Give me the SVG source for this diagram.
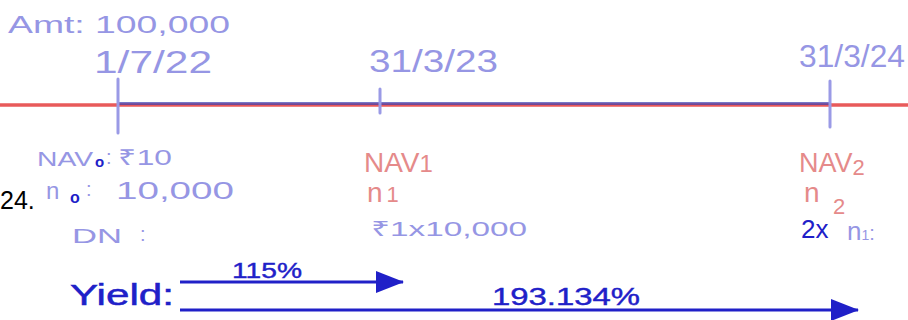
<svg xmlns="http://www.w3.org/2000/svg" width="908" height="320" viewBox="0 0 908 320">
<style>
.lav{fill:#9696e4;font-family:"Liberation Sans",sans-serif}
.pink{fill:#e58a8a;font-family:"Liberation Sans",sans-serif}
.dk{fill:#2020c8;font-family:"Liberation Sans",sans-serif}
.blk{fill:#000;font-family:"Liberation Sans",sans-serif}
.tick{stroke:#9a9ae6;stroke-width:3;stroke-linecap:round}
</style>
<defs>
<marker id="ah" markerWidth="28" markerHeight="22" refX="27" refY="11" orient="auto" markerUnits="userSpaceOnUse" viewBox="0 0 28 22">
<path d="M0,0 L28,11 L0,22 Z" fill="#2020c8"/>
</marker>
</defs>
<rect width="908" height="320" fill="#fff"/>
<g id="timeline">
<line x1="0" y1="105" x2="908" y2="105" stroke="#e85a5a" stroke-width="3.5"/>
<line x1="118" y1="103.5" x2="830" y2="103.5" stroke="#4040b0" stroke-width="3" opacity="0.7"/>
<line class="tick" x1="118" y1="79" x2="118" y2="133"/>
<line class="tick" x1="380" y1="89" x2="380" y2="113"/>
<line class="tick" x1="830" y1="81" x2="830" y2="127"/>
</g>
<g id="top-labels">
<text class="lav" x="8" y="33" font-size="23" textLength="222" lengthAdjust="spacingAndGlyphs">Amt: 100,000</text>
<text class="lav" x="94" y="73" font-size="31" textLength="118" lengthAdjust="spacingAndGlyphs">1/7/22</text>
<text class="lav" x="369" y="72" font-size="31" textLength="129" lengthAdjust="spacingAndGlyphs">31/3/23</text>
<text class="lav" x="799" y="67" font-size="31" textLength="106" lengthAdjust="spacingAndGlyphs">31/3/24</text>
</g>
<g id="col0">
<text class="blk" x="0" y="209" font-size="25">24.</text>
<text class="lav" x="37" y="166" font-size="21" textLength="56" lengthAdjust="spacingAndGlyphs">NAV</text>
<text class="dk" x="95" y="167" font-size="15" font-weight="bold">o</text>
<text class="lav" x="106" y="164" font-size="20">:</text>
<text class="lav" x="118" y="165" font-size="22" textLength="54" lengthAdjust="spacingAndGlyphs">₹10</text>
<text class="lav" x="46" y="199" font-size="24">n</text>
<text class="dk" x="70" y="203" font-size="16" font-weight="bold">o</text>
<text class="lav" x="86" y="196" font-size="20">:</text>
<text class="lav" x="116" y="199" font-size="23" textLength="118" lengthAdjust="spacingAndGlyphs">10,000</text>
<text class="lav" x="72" y="243" font-size="21" textLength="50" lengthAdjust="spacingAndGlyphs">DN</text>
<text class="lav" x="140" y="241" font-size="20">:</text>
</g>
<g id="col1">
<text class="pink" x="364" y="172" font-size="28">NAV<tspan font-size="24">1</tspan></text>
<text class="pink" x="367" y="202" font-size="28">n<tspan font-size="22" dx="4">1</tspan></text>
<text class="lav" x="371" y="236" font-size="21" textLength="156" lengthAdjust="spacingAndGlyphs">₹1x10,000</text>
</g>
<g id="col2">
<text class="pink" x="799" y="172" font-size="27">NAV<tspan font-size="22" dy="3">2</tspan></text>
<text class="pink" x="804" y="202" font-size="28">n</text>
<text class="pink" x="833" y="214" font-size="22">2</text>
<text class="dk" x="801" y="238" font-size="26">2x</text>
<text class="lav" x="847" y="240" font-size="26">n<tspan font-size="14">1</tspan><tspan font-size="20">:</tspan></text>
</g>
<g id="yield">
<text class="dk" x="70" y="305" font-size="30" stroke="#2020c8" stroke-width="0.5" textLength="104" lengthAdjust="spacingAndGlyphs">Yield:</text>
<text class="dk" x="232" y="278" font-size="22" stroke="#2020c8" stroke-width="0.4" textLength="70" lengthAdjust="spacingAndGlyphs">115%</text>
<text class="dk" x="492" y="305" font-size="24" stroke="#2020c8" stroke-width="0.4" textLength="148" lengthAdjust="spacingAndGlyphs">193.134%</text>
</g>
<g id="connectors">
<line x1="180" y1="282" x2="403" y2="282" stroke="#2020c8" stroke-width="3" marker-end="url(#ah)"/>
<line x1="180" y1="310" x2="858" y2="310" stroke="#2020c8" stroke-width="3" marker-end="url(#ah)"/>
</g>
</svg>
